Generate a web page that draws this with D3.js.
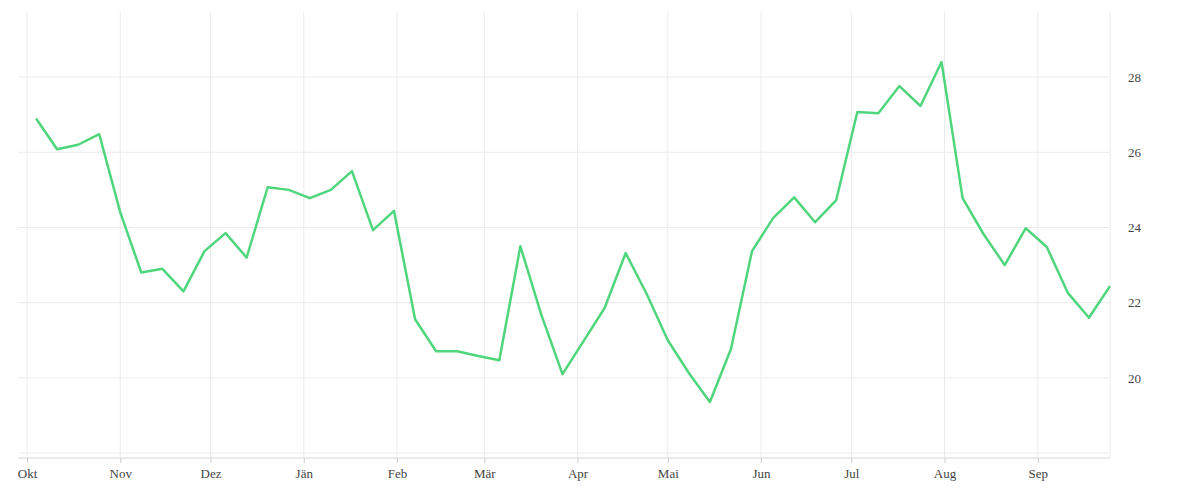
<!DOCTYPE html>
<html><head><meta charset="utf-8">
<script src="https://cdn.jsdelivr.net/npm/d3@7"></script>
<style>body{margin:0;background:#fff}text{font-family:"Liberation Serif",serif;font-size:13px;fill:#444}</style>
</head><body><svg id="c" width="1200" height="500"></svg>
<script>
const startDate = "2019-10-04";
const values = [26.9,26.08,26.2,26.48,24.4,22.8,22.9,22.3,23.37,23.85,23.2,25.07,25.0,24.78,25.0,25.5,23.93,24.44,21.56,20.71,20.71,20.58,20.47,23.5,21.67,20.1,20.98,21.86,23.32,22.23,21.0,20.13,19.36,20.77,23.37,24.25,24.8,24.14,24.73,27.07,27.04,27.76,27.23,28.4,24.78,23.82,23.0,23.98,23.48,22.26,21.6,22.44];
const monthLabels = ["Okt","Nov","Dez","Jän","Feb","Mär","Apr","Mai","Jun","Jul","Aug","Sep"];
const yTicks = [20,22,24,26,28];

const svg = d3.select("#c");
const t0 = new Date(startDate+"T00:00:00");
const data = values.map((v,i)=>({d:d3.timeDay.offset(t0,i*7),v}));
const x = d3.scaleTime().domain([new Date("2019-09-28T00:00:00"), data[data.length-1].d]).range([18,1110]);
const y = d3.scaleLinear().domain([17.87,29.73]).range([458,12]);
const months = d3.range(12).map(i=>new Date(2019,9+i,1));

svg.append("g").selectAll("line").data(months).join("line")
  .attr("x1",d=>x(d)).attr("x2",d=>x(d)).attr("y1",12).attr("y2",458)
  .attr("stroke","#ebebeb");
svg.append("g").selectAll("line").data([18,...yTicks]).join("line")
  .attr("x1",18).attr("x2",1110).attr("y1",d=>y(d)).attr("y2",d=>y(d))
  .attr("stroke","#ebebeb");
svg.append("line").attr("x1",18).attr("x2",1110).attr("y1",458).attr("y2",458).attr("stroke","#d8d8d8");
svg.append("line").attr("x1",1110).attr("x2",1110).attr("y1",12).attr("y2",458).attr("stroke","#ebebeb");

const xa = svg.append("g").attr("transform","translate(0,458)")
  .call(d3.axisBottom(x).tickValues(months).tickFormat((d,i)=>monthLabels[i]).tickSize(5).tickPadding(6));
xa.select(".domain").remove();
xa.selectAll("line").attr("stroke","#ccc");
xa.selectAll("text").style("font-size","13px").attr("fill","#444");

const ya = svg.append("g").attr("transform","translate(1110,0)")
  .call(d3.axisRight(y).tickValues(yTicks).tickSize(0).tickPadding(18));
ya.select(".domain").remove();
ya.selectAll("text").style("font-size","13px").attr("fill","#444");

svg.append("path").datum(data)
  .attr("d",d3.line().x(d=>x(d.d)).y(d=>y(d.v)))
  .attr("fill","none").attr("stroke","#4fd67c").attr("stroke-width",2.5).attr("stroke-linejoin","round");
</script></body></html>
